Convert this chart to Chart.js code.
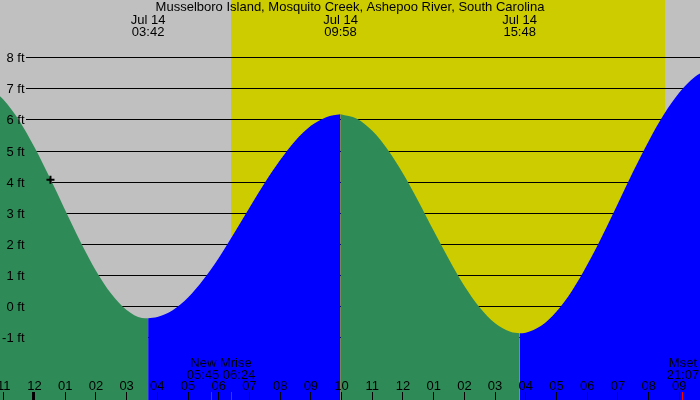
<!DOCTYPE html>
<html>
<head>
<meta charset="utf-8">
<script src="https://cdn.jsdelivr.net/npm/chart.js@4.4.1/dist/chart.umd.min.js"></script>
<style>
  html, body { margin: 0; padding: 0; background: #c0c0c0; }
  canvas { display: block; }
</style>
</head>
<body>
<canvas id="tide" width="700" height="400"></canvas>
<script>
// Tide heights. Hours counted from midnight Jul 14 (negative = Jul 13)
const hours = [-1.5, -1, -0.5, 0, 0.5, 1, 1.5, 2, 2.5, 3, 3.5, 3.7,
  4, 4.5, 5, 5.5, 6, 6.5, 7, 7.5, 8, 8.5, 9, 9.5, 9.967,
  10.5, 11, 11.5, 12, 12.5, 13, 13.5, 14, 14.5, 15, 15.5, 15.8,
  16, 16.5, 17, 17.5, 18, 18.5, 19, 19.5, 20, 20.5, 21, 21.5, 22];
const feet = [7.06, 6.64, 5.98, 5.12, 4.14, 3.10, 2.08, 1.16, 0.42, -0.10, -0.36, -0.37,
  -0.33, -0.11, 0.30, 0.88, 1.57, 2.36, 3.18, 3.98, 4.71, 5.34, 5.81, 6.09, 6.18,
  6.04, 5.65, 5.05, 4.28, 3.39, 2.44, 1.52, 0.67, -0.02, -0.53, -0.80, -0.85,
  -0.83, -0.61, -0.15, 0.51, 1.35, 2.30, 3.32, 4.35, 5.32, 6.18, 6.88, 7.38, 7.65];

// high / low tides labelled at the top
const extremeHours = [3.7, 9.967, 15.8];
const extremeDates = ['Jul 14', 'Jul 14', 'Jul 14'];
const extremeTimes = ['03:42', '09:58', '15:48'];

// moon events along the bottom (red ticks)
const eventHours = [5.75, 6.4, 21.117];
const eventNames = ['New', 'Mrise', 'Mset'];
const eventTimes = ['05:45', '06:24', '21:07'];

const sunHours = [6.4, 20.533]; // sunrise, sunset
const nowHour = [0.52];
const nowFeet = [4.08];

const tickHours = [-1, 0, 1, 2, 3, 4, 5, 6, 7, 8, 9, 10, 11, 12, 13, 14, 15, 16, 17, 18, 19, 20, 21];
const tickLabels = ['11', '12', '01', '02', '03', '04', '05', '06', '07', '08', '09', '10',
  '11', '12', '01', '02', '03', '04', '05', '06', '07', '08', '09'];
const feetTicks = [-1, 0, 1, 2, 3, 4, 5, 6, 7, 8];

// colours
const colorNight = '#c0c0c0';
const colorDay = '#cccc00';
const colorFalling = '#2e8b57';
const colorRising = '#0000ff';
const FONT = '13px "Liberation Sans", Arial, sans-serif';

// split the tide curve at every high/low into falling and rising pieces
const cuts = extremeHours.map(h => hours.indexOf(h));
const bounds = [0, ...cuts, hours.length - 1];
const tideSets = [];
for (let i = 0; i < bounds.length - 1; i++) {
  const pts = [];
  for (let j = bounds[i]; j <= bounds[i + 1]; j++) pts.push({ x: hours[j], y: feet[j] });
  const rising = pts[pts.length - 1].y > pts[0].y;
  tideSets.push({
    data: pts,
    fill: 'start',
    backgroundColor: rising ? colorRising : colorFalling,
    borderColor: 'rgba(0,0,0,0)',
    borderWidth: 0,
    pointRadius: 0,
    cubicInterpolationMode: 'monotone'
  });
}

const nowSet = {
  data: nowHour.map((h, i) => ({ x: h, y: nowFeet[i] })),
  showLine: false,
  pointStyle: 'cross',
  pointRadius: 4,
  pointBorderWidth: 2,
  pointBorderColor: '#000',
  pointBackgroundColor: '#000'
};

const tidePlugin = {
  id: 'tideDecor',
  beforeDraw(chart) {
    const { ctx, scales: { x } } = chart;
    ctx.save();
    ctx.fillStyle = colorNight;
    ctx.fillRect(0, 0, chart.width, chart.height);
    const x0 = Math.round(x.getPixelForValue(sunHours[0]));
    const x1 = Math.round(x.getPixelForValue(sunHours[1]));
    ctx.fillStyle = colorDay;
    ctx.fillRect(x0, 0, x1 - x0, chart.height);
    ctx.restore();
  },
  beforeDatasetsDraw(chart) {
    const { ctx, scales: { y } } = chart;
    ctx.save();
    ctx.fillStyle = '#000';
    feetTicks.forEach(v => {
      const py = Math.floor(y.getPixelForValue(v));
      ctx.fillRect(26, py, chart.width - 26, 1);
    });
    ctx.restore();
  },
  afterDatasetsDraw(chart) {
    const { ctx, scales: { x, y } } = chart;
    ctx.save();
    ctx.fillStyle = '#000';
    ctx.font = FONT;
    ctx.textBaseline = 'alphabetic';

    // y labels
    ctx.textAlign = 'right';
    feetTicks.forEach(v => {
      const py = Math.floor(y.getPixelForValue(v));
      ctx.fillText(v + ' ft', 24.5, py + 4.5);
    });

    // hour ticks and labels
    ctx.textAlign = 'center';
    tickHours.forEach((h, i) => {
      const px = x.getPixelForValue(h);
      if (h % 24 === 0) ctx.fillRect(Math.floor(px) - 2, 392, 3, 8);
      else ctx.fillRect(Math.floor(px), 392, 1, 8);
      ctx.fillText(tickLabels[i], px, 390);
    });

    // title
    ctx.fillText('Musselboro Island, Mosquito Creek, Ashepoo River, South Carolina', 350, 11);

    // high/low labels
    extremeHours.forEach((h, i) => {
      const px = x.getPixelForValue(h);
      ctx.fillText(extremeDates[i], px, 23.5);
      ctx.fillText(extremeTimes[i], px, 36);
    });

    // moon events: red ticks, labels merged where they would overlap
    ctx.fillStyle = '#ff0000';
    eventHours.forEach(h => {
      ctx.fillRect(Math.floor(x.getPixelForValue(h)), 392, 1, 8);
    });
    ctx.fillStyle = '#000';
    const groups = [];
    eventHours.forEach((h, i) => {
      const px = x.getPixelForValue(h);
      const w = ctx.measureText(eventTimes[i]).width;
      const last = groups[groups.length - 1];
      if (last && px - w / 2 < last.right) {
        last.xs.push(px); last.names.push(eventNames[i]); last.times.push(eventTimes[i]);
        last.right = px + w / 2;
      } else {
        groups.push({ xs: [px], names: [eventNames[i]], times: [eventTimes[i]], right: px + w / 2 });
      }
    });
    groups.forEach(g => {
      const cx = g.xs.reduce((a, b) => a + b, 0) / g.xs.length;
      ctx.fillText(g.names.join(' '), cx, 367);
      ctx.fillText(g.times.join(' '), cx, 378.5);
    });
    ctx.restore();
  }
};

new Chart(document.getElementById('tide'), {
  type: 'line',
  data: { datasets: [nowSet, ...tideSets] },
  options: {
    responsive: false,
    animation: false,
    layout: { padding: 0, autoPadding: false },
    scales: {
      x: { type: 'linear', min: -1.1236, max: 21.673, display: false },
      y: { type: 'linear', min: -2.993, max: 9.852, display: false }
    },
    plugins: {
      legend: { display: false },
      tooltip: { enabled: false },
      title: { display: false }
    }
  },
  plugins: [tidePlugin]
});
</script>
</body>
</html>
